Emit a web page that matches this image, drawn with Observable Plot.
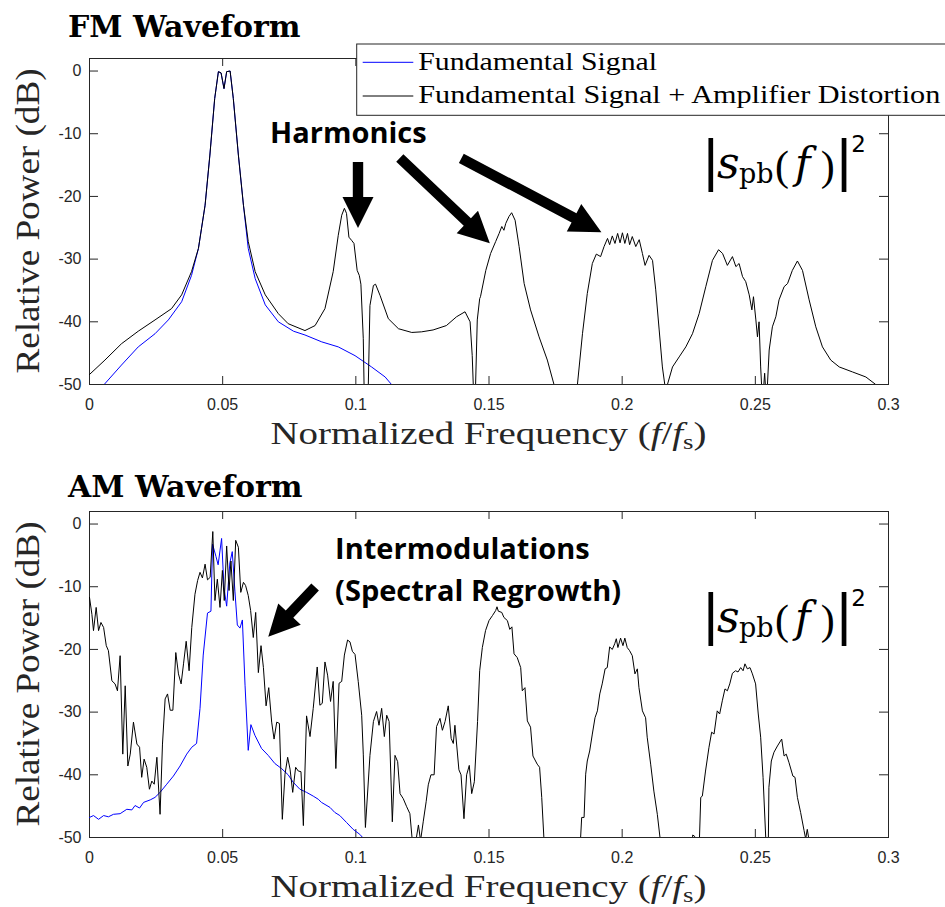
<!DOCTYPE html>
<html>
<head>
<meta charset="utf-8">
<script src="https://cdn.jsdelivr.net/npm/d3@7"></script>
<script src="https://cdn.jsdelivr.net/npm/@observablehq/plot@0.6"></script>
<style>
  html, body { margin: 0; padding: 0; background: #fff; overflow: hidden; }
  #fig { position: relative; width: 945px; height: 907px; overflow: hidden; background: #fff; }
  .panel { position: absolute; left: 0; }
</style>
</head>
<body>
<div id="fig"><div id="top" class="panel" style="top:0px"></div><div id="bottom" class="panel" style="top:453px"></div></div>
<script>
// ---------------- DATA ----------------
const xTicks = [0, 0.05, 0.1, 0.15, 0.2, 0.25, 0.3];
const xTickLabels = ["0", "0.05", "0.1", "0.15", "0.2", "0.25", "0.3"];
const yTicks = [-50, -40, -30, -20, -10, 0];
const yTickLabels = ["-50", "-40", "-30", "-20", "-10", "0"];
const legendLabels = ["Fundamental Signal", "Fundamental Signal + Amplifier Distortion"];
const seriesColors = ["#0000ff", "#000000"];
const panelTitles = ["FM Waveform", "AM Waveform"];

// FM: [normalized frequency, relative power dB]
const fmFundamental = [
  [0.002, -52.5], [0.0055, -50], [0.012, -46.9], [0.0183, -44.0], [0.0246, -41.9], [0.0296, -39.7],
  [0.0346, -36.8], [0.0383, -32.6], [0.0409, -28.3], [0.0434, -21.4], [0.0452, -13.4], [0.047, -4.4],
  [0.0484, -0.1], [0.0494, -0.3], [0.0505, -2.8], [0.0515, -0.1], [0.0528, 0], [0.054, -4.4],
  [0.0559, -13.4], [0.0578, -21.4], [0.0596, -28.3], [0.0622, -33.1], [0.066, -37.3], [0.0709, -40.0],
  [0.0766, -41.5], [0.0809, -42.1], [0.0872, -43.2], [0.0934, -44.0], [0.0997, -45.4], [0.1059, -47.2],
  [0.111, -48.8], [0.1138, -50.2], [0.116, -52]
];
const fmDistorted = [
  [0, -48.4], [0.0058, -46.1], [0.012, -43.5], [0.0183, -41.5], [0.0246, -39.7], [0.0308, -37.9],
  [0.0346, -35.7], [0.0383, -32.0], [0.0409, -28.3], [0.0434, -21.4], [0.0452, -13.4], [0.047, -4.4],
  [0.0484, -0.1], [0.0494, -0.3], [0.0505, -2.8], [0.0515, -0.1], [0.0528, 0], [0.054, -4.4],
  [0.0559, -13.4], [0.0578, -21.4], [0.0596, -27.2], [0.0622, -32.0], [0.066, -35.7], [0.0709, -38.7],
  [0.0746, -40.3], [0.0809, -41.4], [0.0847, -40.6], [0.0884, -37.9], [0.0915, -32.0], [0.0934, -26.2],
  [0.0947, -23.0], [0.0957, -21.9], [0.0965, -22.7], [0.0974, -26.5], [0.0984, -27.0], [0.0993, -27.5],
  [0.1005, -31.8], [0.1013, -32.6], [0.1019, -34.0], [0.1028, -42.7], [0.1034, -58], [0.1043, -58],
  [0.1053, -37.4], [0.1066, -34.2], [0.1074, -34.0], [0.1091, -35.8], [0.1122, -39.5], [0.116, -41.1],
  [0.121, -41.7], [0.1247, -41.6], [0.129, -41.3], [0.134, -40.6], [0.1378, -39.2], [0.141, -38.4],
  [0.1429, -40.0], [0.1437, -45.4], [0.1446, -56], [0.1456, -39.7], [0.1465, -36.3], [0.1468, -36.0],
  [0.1488, -31.8], [0.1506, -29.1], [0.1525, -27.2], [0.1538, -25.9], [0.1548, -24.8], [0.1556, -25.4],
  [0.1563, -24.3], [0.1575, -23.2], [0.1585, -22.6], [0.1598, -23.8], [0.1613, -28.0], [0.1632, -33.9],
  [0.1656, -38.1], [0.1688, -42.4], [0.1719, -46.1], [0.1744, -50], [0.176, -56], [0.1815, -56],
  [0.1832, -50], [0.1851, -41.9], [0.1869, -35.5], [0.1888, -30.7], [0.1903, -29.2], [0.1919, -29.6],
  [0.1932, -28.0], [0.1945, -26.7], [0.1953, -27.7], [0.1963, -26.3], [0.1973, -27.5], [0.1983, -25.9],
  [0.1992, -27.4], [0.2001, -25.8], [0.201, -27.5], [0.202, -25.9], [0.2028, -27.7], [0.2038, -26.4],
  [0.2051, -28.0], [0.2064, -26.9], [0.2076, -29.1], [0.2086, -31.0], [0.2101, -29.4], [0.2114, -30.2],
  [0.2126, -34.9], [0.2139, -41.3], [0.2151, -47.2], [0.216, -50], [0.2165, -55], [0.217, -50],
  [0.2189, -47.2], [0.2214, -45.6], [0.2239, -44.0], [0.2264, -41.9], [0.2289, -38.7], [0.2314, -34.4],
  [0.2339, -30.2], [0.2362, -28.5], [0.2377, -29.1], [0.2395, -31.0], [0.2414, -29.6], [0.2427, -31.2],
  [0.2439, -30.7], [0.2452, -32.8], [0.2464, -33.6], [0.2477, -35.7], [0.2487, -38.1], [0.2493, -36.0],
  [0.2502, -39.7], [0.2508, -42.4], [0.2514, -40.0], [0.252, -47.2], [0.2527, -53], [0.2535, -48.2],
  [0.2542, -53], [0.2552, -44.5], [0.2564, -40.8], [0.2577, -39.2], [0.2589, -36.5], [0.2608, -34.4],
  [0.2621, -33.9], [0.2639, -31.8], [0.2658, -30.3], [0.2677, -31.8], [0.2702, -36.5], [0.2727, -40.8],
  [0.2752, -44.0], [0.2783, -46.1], [0.2815, -47.2], [0.2865, -48.0], [0.2915, -48.8], [0.2952, -50],
  [0.298, -52]
];

// AM
const amFundamental = [
  [0, -46.8], [0.0015, -46.5], [0.0034, -47.1], [0.0053, -46.5], [0.0071, -46.7], [0.009, -46.3],
  [0.0115, -46.2], [0.014, -45.5], [0.0159, -45.6], [0.0171, -44.9], [0.0188, -45.3], [0.0203, -44.4],
  [0.0228, -44.0], [0.0246, -43.6], [0.0265, -42.8], [0.029, -41.5], [0.0315, -40.2], [0.034, -38.6],
  [0.0365, -36.7], [0.0384, -35.6], [0.0402, -35.0], [0.0415, -29.4], [0.0427, -20.9], [0.0443, -14.2],
  [0.0456, -13.9], [0.0462, -3.2], [0.0475, -5.2], [0.0483, -6.5], [0.0496, -2.3], [0.0505, -10.2],
  [0.0515, -13.1], [0.0527, -6.2], [0.0536, -4.4], [0.0546, -10.7], [0.0555, -16.1], [0.0565, -16.6],
  [0.0574, -15.3], [0.0584, -25.7], [0.0596, -36.1], [0.0606, -32.0], [0.0621, -33.7], [0.0646, -35.8],
  [0.0671, -36.9], [0.0696, -38.2], [0.0721, -39.0], [0.0746, -40.0], [0.0765, -41.2], [0.079, -42.3],
  [0.0815, -42.8], [0.084, -43.4], [0.0859, -43.9], [0.0871, -44.4], [0.0903, -45.2], [0.0921, -46.0],
  [0.094, -46.5], [0.0965, -47.6], [0.099, -48.7], [0.1015, -49.5], [0.103, -50.2], [0.105, -52]
];
const amDistorted = [
  [0, -11.7], [0.0009, -14.4], [0.0015, -17.0], [0.0025, -13.3], [0.0034, -17.0], [0.0043, -15.7],
  [0.0053, -16.5], [0.0063, -19.4], [0.0071, -20.2], [0.0084, -25.0], [0.0096, -25.5], [0.0105, -26.6],
  [0.0115, -21.0], [0.0125, -36.7], [0.0134, -25.8], [0.0144, -38.6], [0.0153, -36.7], [0.0165, -31.6],
  [0.0178, -35.1], [0.0188, -35.6], [0.0196, -40.4], [0.0205, -37.5], [0.0215, -38.8], [0.0225, -42.3],
  [0.0234, -41.0], [0.0243, -41.5], [0.0253, -37.2], [0.0265, -46.3], [0.0274, -35.1], [0.0284, -27.9],
  [0.0293, -27.1], [0.0303, -29.7], [0.0313, -29.7], [0.0324, -20.5], [0.0334, -23.9], [0.0344, -25.5],
  [0.0353, -22.3], [0.0363, -18.7], [0.0374, -23.4], [0.0384, -16.5], [0.0396, -11.2], [0.0406, -9.0],
  [0.0415, -7.7], [0.0424, -8.6], [0.0434, -6.4], [0.0443, -8.9], [0.0453, -8.5], [0.0463, -1.2],
  [0.0471, -12.2], [0.048, -8.8], [0.049, -13.3], [0.0499, -7.4], [0.0506, -12.2], [0.0515, -3.5],
  [0.0524, -10.6], [0.0531, -5.9], [0.054, -12.2], [0.0549, -2.6], [0.0559, -3.7], [0.0568, -10.9],
  [0.0578, -9.3], [0.0586, -9.8], [0.0596, -11.4], [0.0605, -13.8], [0.0615, -18.1], [0.0624, -14.1],
  [0.0634, -23.7], [0.0644, -19.4], [0.0653, -22.9], [0.0663, -29.0], [0.0673, -26.1], [0.0684, -31.6],
  [0.0693, -34.3], [0.0703, -31.6], [0.0713, -31.8], [0.0724, -47.1], [0.0734, -39.9], [0.0744, -37.2],
  [0.0753, -39.1], [0.0763, -42.8], [0.0774, -38.8], [0.0784, -39.4], [0.0794, -39.5], [0.0803, -48.1],
  [0.0815, -30.6], [0.0828, -33.9], [0.084, -29.4], [0.0855, -22.8], [0.0865, -28.9], [0.0874, -28.6],
  [0.0884, -22.0], [0.0894, -24.1], [0.0905, -28.3], [0.0915, -25.1], [0.0925, -39.0], [0.0937, -25.4],
  [0.0947, -25.1], [0.0957, -20.9], [0.0969, -18.5], [0.0978, -18.8], [0.0987, -20.3], [0.0997, -20.8],
  [0.1009, -25.1], [0.1022, -30.5], [0.1028, -36.7], [0.1036, -48.4], [0.1053, -36.9], [0.1066, -31.5],
  [0.1078, -29.9], [0.1087, -32.1], [0.1097, -29.4], [0.1107, -33.9], [0.1116, -30.5], [0.1125, -31.5],
  [0.1137, -47.5], [0.1147, -36.9], [0.1157, -37.9], [0.1166, -43.0], [0.1178, -43.8], [0.1191, -45.1],
  [0.1203, -46.2], [0.1212, -50.5], [0.122, -52], [0.1235, -48.0], [0.1243, -50.5], [0.1253, -47.5],
  [0.1264, -44.3], [0.1272, -41.6], [0.1282, -40.0], [0.1294, -40.0], [0.1303, -32.3], [0.1316, -31.0],
  [0.1325, -32.9], [0.1335, -31.5], [0.1347, -29.0], [0.1358, -34.2], [0.1366, -35.0], [0.1372, -32.1],
  [0.1387, -39.2], [0.1395, -40.0], [0.1406, -47.0], [0.1416, -40.0], [0.1426, -38.5], [0.1435, -43.0],
  [0.1445, -41.1], [0.1457, -31.5], [0.1465, -23.4], [0.1475, -19.7], [0.1487, -17.0], [0.15, -15.4],
  [0.1513, -14.6], [0.1525, -13.8], [0.153, -13.2], [0.1535, -13.9], [0.1548, -14.1], [0.1556, -14.9],
  [0.1569, -15.4], [0.1578, -16.8], [0.1586, -16.4], [0.1594, -20.7], [0.1606, -21.3], [0.1619, -22.9],
  [0.1625, -26.6], [0.1635, -26.1], [0.1644, -31.4], [0.1656, -32.4], [0.1665, -37.0], [0.1681, -38.3],
  [0.169, -38.8], [0.1698, -43.6], [0.1706, -50], [0.1715, -56], [0.1835, -56], [0.1844, -50],
  [0.1848, -46.8], [0.1857, -46.8], [0.1863, -39.9], [0.1869, -37.8], [0.1878, -36.2], [0.1888, -33.5],
  [0.1898, -30.9], [0.1907, -29.8], [0.1916, -27.1], [0.1925, -25.5], [0.1936, -23.1], [0.1944, -22.9],
  [0.1953, -19.6], [0.1963, -20.0], [0.1972, -19.1], [0.1978, -18.3], [0.1984, -19.7], [0.1994, -18.2],
  [0.2003, -19.4], [0.201, -18.2], [0.2019, -19.7], [0.2028, -20.2], [0.2038, -21.0], [0.2048, -23.9],
  [0.2057, -23.1], [0.2063, -26.1], [0.2076, -29.8], [0.2088, -30.9], [0.2094, -34.0], [0.2107, -38.3],
  [0.2119, -42.6], [0.2132, -46.3], [0.2142, -50], [0.215, -56], [0.2255, -56], [0.2265, -49.6],
  [0.2272, -49.8], [0.228, -56], [0.2286, -56], [0.2295, -43.6], [0.2301, -43.4], [0.2313, -39.4],
  [0.2326, -35.6], [0.2336, -33.2], [0.2345, -33.5], [0.2357, -29.8], [0.2366, -30.3], [0.2376, -28.2],
  [0.2386, -26.3], [0.2395, -26.6], [0.2404, -25.5], [0.2414, -23.8], [0.2426, -23.4], [0.2435, -23.6],
  [0.2445, -22.9], [0.2454, -23.4], [0.2461, -22.3], [0.247, -23.1], [0.248, -22.9], [0.2489, -23.9],
  [0.2501, -25.5], [0.2511, -30.3], [0.252, -34.0], [0.2529, -40.4], [0.2539, -50], [0.2545, -55],
  [0.2549, -50], [0.2551, -42.0], [0.256, -37.8], [0.257, -36.4], [0.2583, -35.4], [0.2599, -34.3],
  [0.2608, -37.0], [0.2616, -36.7], [0.2626, -38.0], [0.2641, -40.2], [0.2649, -40.4], [0.2658, -43.6],
  [0.267, -46.0], [0.2683, -48.9], [0.2689, -50.2], [0.2695, -48.7], [0.2702, -50.5], [0.271, -56]
];

// annotation arrows (from -> tip) in data units
const fmArrows = [
  {x1: 0.1010, y1: -14.6, x2: 0.1010, y2: -25.1},
  {x1: 0.1167, y1: -13.95, x2: 0.1505, y2: -27.56},
  {x1: 0.1398, y1: -14.0, x2: 0.1924, y2: -25.8}
];
const amArrows = [
  {x1: 0.0849, y1: -10.13, x2: 0.0673, y2: -18.05}
];
const fmNotes = [{text: "Harmonics", x: 0.068, y: -11.56}];
const amNotes = [
  {text: "Intermodulations", x: 0.0924, y: -5.66},
  {text: "(Spectral Regrowth)", x: 0.0924, y: -12.36}
];
const fmFormulaPos = [0.2327, -17.14];
const amFormulaPos = [0.2327, -17.3];

// ---------------- DRAWING ----------------
const W = 945, H = 454, mL = 89, mR = 57, mT = 58, mB = 70;
const innerW = W - mL - mR, innerH = H - mT - mB;
const AX = "#262626";
const SERIF = "'Liberation Serif', 'Times New Roman', serif";

function arrowsMark(list) {
  return (index, scales) => {
    const {x, y} = scales;
    const g = d3.create("svg:g").attr("fill", "#000");
    for (const a of list) {
      const x1 = x(a.x1), y1 = y(a.y1), x2 = x(a.x2), y2 = y(a.y2);
      const vx = x2 - x1, vy = y2 - y1, len = Math.hypot(vx, vy);
      const ux = vx / len, uy = vy / len, nx = -uy, ny = ux;
      const L = 31, hw = 15.5, sw = 5.2;
      const bx = x2 - ux * L, by = y2 - uy * L;
      const pts = [
        [x1 + nx * sw, y1 + ny * sw], [bx + nx * sw, by + ny * sw], [bx + nx * hw, by + ny * hw],
        [x2, y2], [bx - nx * hw, by - ny * hw], [bx - nx * sw, by - ny * sw], [x1 - nx * sw, y1 - ny * sw]
      ];
      g.append("path").attr("d", "M" + pts.map(p => p.map(v => v.toFixed(2)).join(",")).join("L") + "Z");
    }
    return g.node();
  };
}

function notesMark(list) {
  return (index, scales) => {
    const {x, y} = scales;
    const g = d3.create("svg:g").attr("text-anchor", "start");
    for (const n of list) {
      g.append("text").attr("x", x(n.x)).attr("y", y(n.y)).attr("text-anchor", "start")
        .attr("font-family", "'Open Sans', 'Liberation Sans', sans-serif")
        .attr("font-weight", 700).attr("font-size", 29).attr("fill", "#000")
        .text(n.text);
    }
    return g.node();
  };
}

function formulaMark(pos) {
  return (index, scales) => {
    const {x, y} = scales;
    const x0 = x(pos[0]), y0 = y(pos[1]);
    const g = d3.create("svg:g").attr("fill", "#000").attr("text-anchor", "middle");
    const add = (t, dx, dy, size, family, style) => g.append("text")
      .attr("x", x0 + dx).attr("y", y0 + dy).attr("font-size", size).attr("text-anchor", "middle")
      .attr("font-family", family).attr("font-style", style || "normal").text(t);
    add("|", 2, 2, 58, "'Liberation Sans', sans-serif");
    add("s", 19.6, 0, 44, "'DejaVu Serif', serif", "italic");
    add("pb", 47.5, 5.3, 27, "'DejaVu Serif', serif");
    add("(", 73.3, 2.5, 42, "'Liberation Serif', serif");
    add("f", 94.1, 0, 42, "'DejaVu Serif', serif", "italic");
    add(")", 119.1, 2.5, 42, "'Liberation Serif', serif");
    add("|", 135.3, 2, 58, "'Liberation Sans', sans-serif");
    add("2", 149.8, -26, 23, "'DejaVu Sans', sans-serif");
    return g.node();
  };
}

function labelsMark(title, titleBaseline, showLegend) {
  return () => {
    const g = d3.create("svg:g");
    // panel title
    g.append("text").attr("x", 68).attr("y", titleBaseline).attr("text-anchor", "start")
      .attr("font-family", "'DejaVu Serif', serif").attr("font-weight", 700)
      .attr("font-size", 30).attr("fill", "#000").text(title);
    // x label
    const xl = g.append("text").attr("x", mL + innerW / 2).attr("y", mT + innerH + 59.5)
      .attr("text-anchor", "middle").attr("font-family", SERIF).attr("font-size", 32)
      .attr("fill", AX).attr("textLength", 436).attr("lengthAdjust", "spacingAndGlyphs");
    xl.append("tspan").text("Normalized Frequency (");
    xl.append("tspan").attr("font-style", "italic").text("f");
    xl.append("tspan").text("/");
    xl.append("tspan").attr("font-style", "italic").text("f");
    xl.append("tspan").attr("font-size", 22).attr("dy", 5).text("s");
    xl.append("tspan").attr("dy", -5).text(")");
    // y label
    g.append("text").attr("transform", `translate(39,${mT + innerH / 2}) rotate(-90)`)
      .attr("text-anchor", "middle").attr("font-family", SERIF).attr("font-size", 34)
      .attr("fill", AX).attr("textLength", 305).attr("lengthAdjust", "spacingAndGlyphs")
      .text("Relative Power (dB)");
    if (showLegend) {
      const lg = g.append("g");
      lg.append("rect").attr("x", 356.7).attr("y", 44).attr("width", 620).attr("height", 71.3)
        .attr("fill", "#fff").attr("stroke", AX).attr("stroke-width", 1);
      const rows = [62.3, 96];
      const base = [70, 103.3];
      const lens = [238.7, 522];
      legendLabels.forEach((lab, i) => {
        lg.append("line").attr("x1", 362.7).attr("x2", 413.3).attr("y1", rows[i]).attr("y2", rows[i])
          .attr("stroke", seriesColors[i]).attr("stroke-width", 1);
        lg.append("text").attr("x", 418.3).attr("y", base[i]).attr("text-anchor", "start")
          .attr("font-family", SERIF)
          .attr("font-size", 26).attr("fill", "#000").attr("textLength", lens[i])
          .attr("lengthAdjust", "spacingAndGlyphs").text(lab);
      });
    }
    return g.node();
  };
}

function panel(opts) {
  return Plot.plot({
    width: W, height: H,
    marginLeft: mL, marginRight: mR, marginTop: mT, marginBottom: mB,
    x: {domain: [0, 0.3], axis: null},
    y: {domain: [-50, 2], axis: null},
    style: {fontFamily: "'Liberation Sans', Arial, sans-serif", background: "#fff", overflow: "visible"},
    marks: [
      Plot.frame({stroke: AX, strokeWidth: 1}),
      Plot.tickX(xTicks, {x: d => d, insetTop: innerH - 8, stroke: AX}),
      Plot.tickX(xTicks, {x: d => d, insetBottom: innerH - 8, stroke: AX}),
      Plot.tickY(yTicks, {y: d => d, insetRight: innerW - 9, stroke: AX}),
      Plot.tickY(yTicks, {y: d => d, insetLeft: innerW - 9, stroke: AX}),
      Plot.text(yTicks, {y: d => d, frameAnchor: "left", dx: -8, textAnchor: "end",
        text: (d, i) => yTickLabels[i], fontSize: 16, fill: AX}),
      Plot.text(xTicks, {x: d => d, frameAnchor: "bottom", dy: 14, lineAnchor: "top",
        text: (d, i) => xTickLabels[i], fontSize: 16, fill: AX}),
      Plot.line(opts.fundamental, {x: d => d[0], y: d => d[1], stroke: seriesColors[0], strokeWidth: 1, clip: true}),
      Plot.line(opts.distorted, {x: d => d[0], y: d => d[1], stroke: seriesColors[1], strokeWidth: 1, clip: true}),
      arrowsMark(opts.arrows),
      notesMark(opts.notes),
      formulaMark(opts.formula),
      labelsMark(opts.title, opts.titleBaseline, opts.legend)
    ]
  });
}

document.getElementById("top").appendChild(panel({
  title: panelTitles[0], titleBaseline: 36.5, fundamental: fmFundamental, distorted: fmDistorted,
  arrows: fmArrows, notes: fmNotes, formula: fmFormulaPos, legend: true
}));
document.getElementById("bottom").appendChild(panel({
  title: panelTitles[1], titleBaseline: 44, fundamental: amFundamental, distorted: amDistorted,
  arrows: amArrows, notes: amNotes, formula: amFormulaPos, legend: false
}));
</script>
</body>
</html>
